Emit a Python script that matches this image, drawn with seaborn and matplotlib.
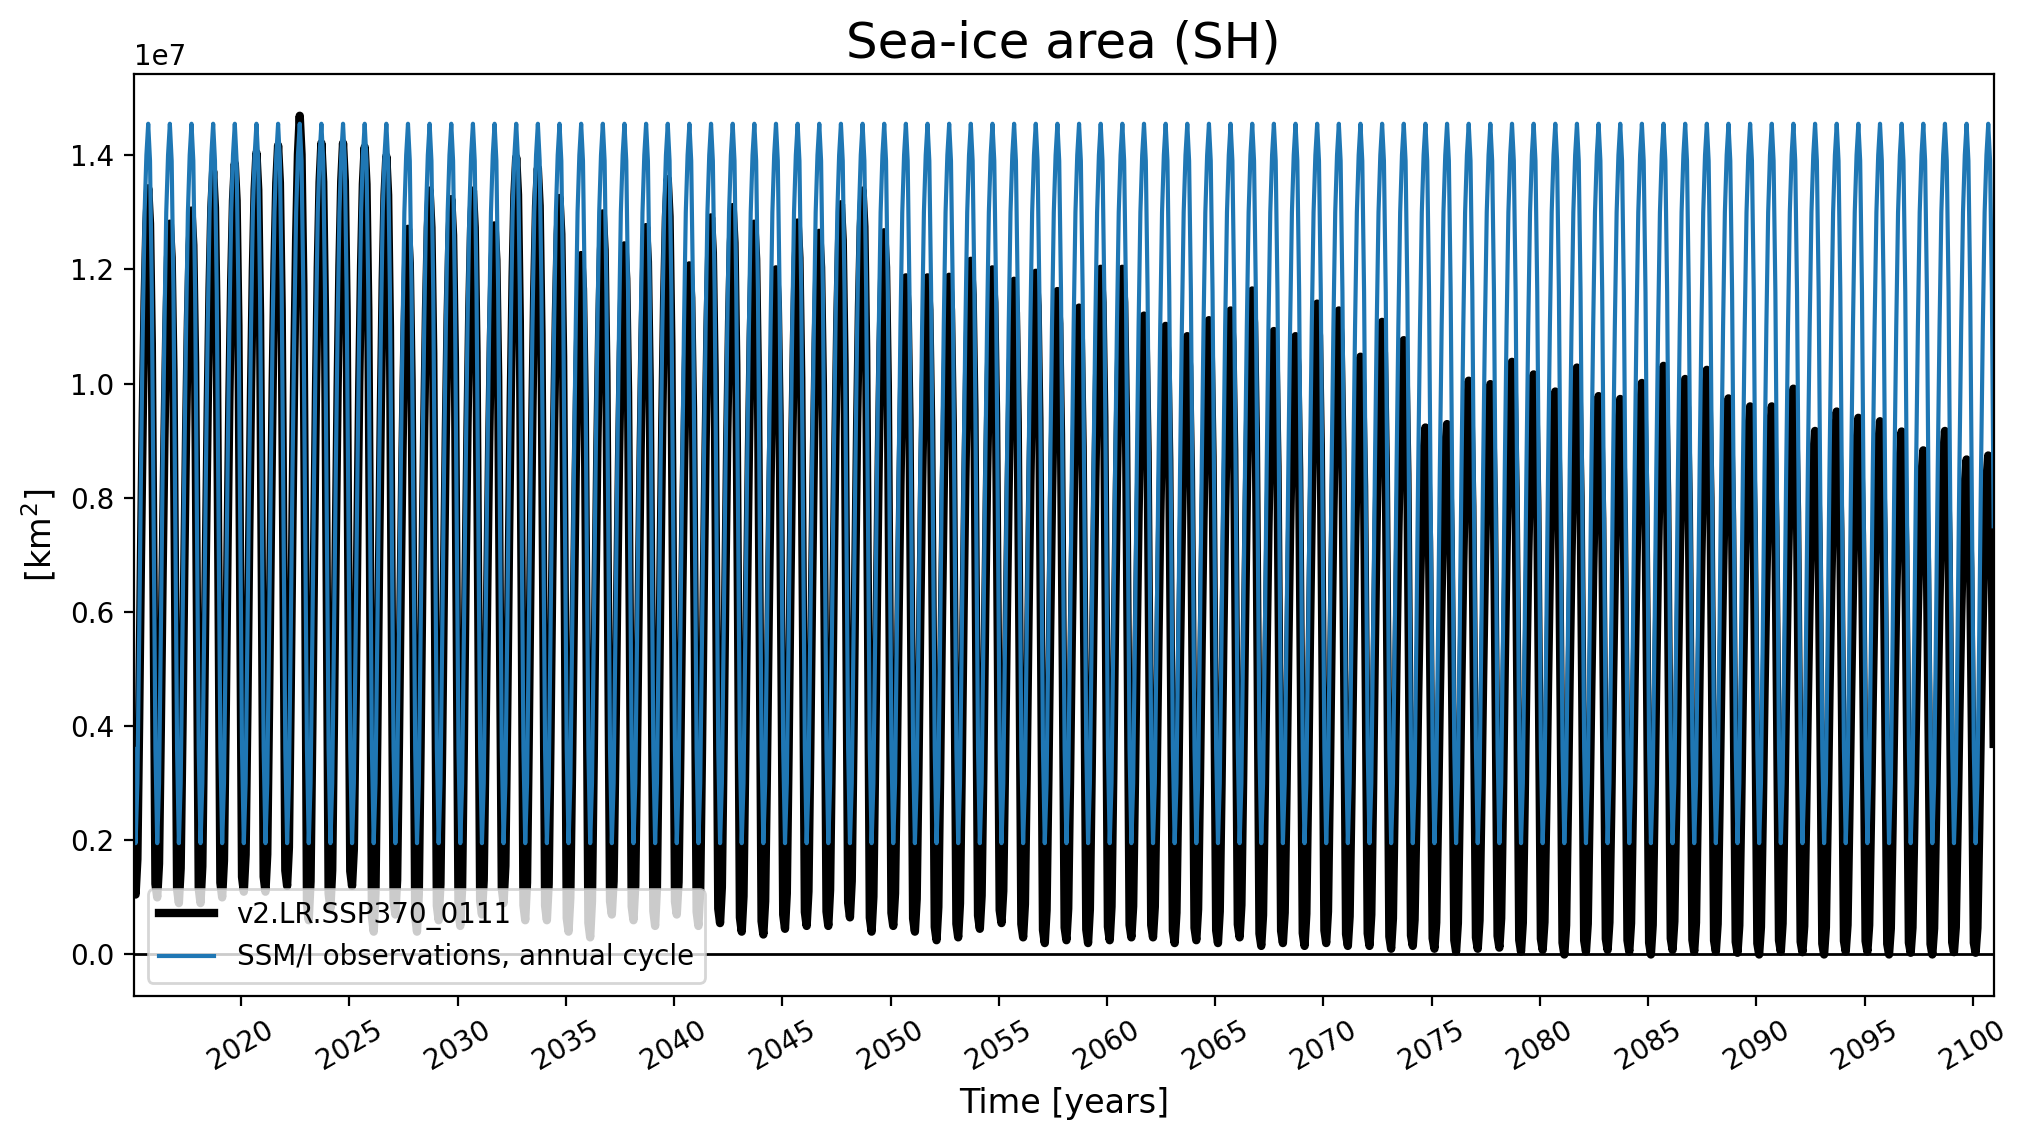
import numpy as np
import matplotlib
matplotlib.use("Agg")
import matplotlib.pyplot as plt
import seaborn as sns

# ---------------- data (values in units of 1e7 km^2) ----------------
years = list(range(2015, 2101))

# model annual maximum (September), 2015..2100
model_annual_max = [
    1.342, 1.280, 1.303, 1.372, 1.385, 1.404, 1.417, 1.469, 1.421, 1.421,
    1.414, 1.398, 1.271, 1.338, 1.323, 1.338, 1.277, 1.396, 1.377, 1.325,
    1.225, 1.298, 1.242, 1.274, 1.358, 1.207, 1.291, 1.309, 1.280, 1.200,
    1.282, 1.264, 1.314, 1.338, 1.265, 1.186, 1.186, 1.187, 1.215, 1.200,
    1.180, 1.194, 1.162, 1.133, 1.201, 1.201, 1.119, 1.101, 1.083, 1.111,
    1.128, 1.163, 1.092, 1.083, 1.140, 1.128, 1.047, 1.108, 1.076, 0.923,
    0.929, 1.005, 0.999, 1.038, 1.016, 0.986, 1.028, 0.978, 0.973, 1.001,
    1.031, 1.008, 1.024, 0.974, 0.960, 0.960, 0.991, 0.917, 0.951, 0.940,
    0.934, 0.916, 0.883, 0.917, 0.867, 0.874,
]

# model annual minimum (February), 2015..2100
model_annual_min = [
    0.105, 0.100, 0.090, 0.090, 0.100, 0.110, 0.110, 0.120, 0.060, 0.080,
    0.120, 0.040, 0.070, 0.040, 0.060, 0.050, 0.070, 0.090, 0.060, 0.060,
    0.040, 0.030, 0.070, 0.060, 0.050, 0.070, 0.050, 0.055, 0.040, 0.035,
    0.045, 0.050, 0.050, 0.065, 0.040, 0.050, 0.040, 0.025, 0.030, 0.045,
    0.055, 0.030, 0.020, 0.025, 0.020, 0.025, 0.030, 0.030, 0.020, 0.025,
    0.020, 0.030, 0.015, 0.020, 0.015, 0.020, 0.015, 0.015, 0.010, 0.015,
    0.010, 0.005, 0.010, 0.012, 0.005, 0.008, 0.000, 0.005, 0.008, 0.005,
    0.000, 0.008, 0.005, 0.005, 0.003, 0.000, 0.005, 0.004, 0.000, 0.005,
    0.005, 0.000, 0.003, 0.000, 0.004, 0.003,
]

# model seasonal shape (fraction between annual min and max), Jan..Dec
model_season_shape = [0.02, 0.00, 0.05, 0.25, 0.48, 0.68, 0.84, 0.95, 1.00, 0.95, 0.78, 0.42]

# SSM/I observed annual cycle, Jan..Dec
obs_climatology = [0.36, 0.195, 0.30, 0.56, 0.85, 1.10, 1.30, 1.40, 1.455, 1.39, 1.16, 0.75]

xtick_years = list(range(2020, 2101, 5))

model_label = "v2.LR.SSP370_0111"
obs_label = "SSM/I observations, annual cycle"

# ---------------- build monthly series ----------------
yrs = np.array(years, dtype=float)
month_offsets = (np.arange(12) + 0.5) / 12.0
time = (yrs[:, None] + month_offsets[None, :]).ravel()

mx = np.array(model_annual_max)
mn = np.array(model_annual_min)
shape = np.array(model_season_shape)
model = (mn[:, None] + shape[None, :] * (mx - mn)[:, None]).ravel() * 1e7
obs = np.tile(np.array(obs_climatology), len(years)) * 1e7

# ---------------- plot ----------------
fig = plt.figure(figsize=(10.15, 5.705), dpi=200)
ax = fig.add_axes([0.0659, 0.1267, 0.9162, 0.8086])

sns.lineplot(x=time, y=model, color="k", linewidth=3, label=model_label, ax=ax)
sns.lineplot(x=time, y=obs, color="#1f77b4", linewidth=1.5, label=obs_label, ax=ax)
ax.axhline(0, color="k", linewidth=1)

ax.set_xlim(time[0], time[-1])
ax.set_xticks(xtick_years)
ax.tick_params(axis="x", labelrotation=30)
ax.set_xlabel("Time [years]", fontsize=12)
ax.set_ylabel("[km$^2$]", fontsize=12)
ax.set_title("Sea-ice area (SH)", fontsize=18)
ax.legend(loc="lower left", fontsize=10)

fig.savefig("out.png", dpi=200)
